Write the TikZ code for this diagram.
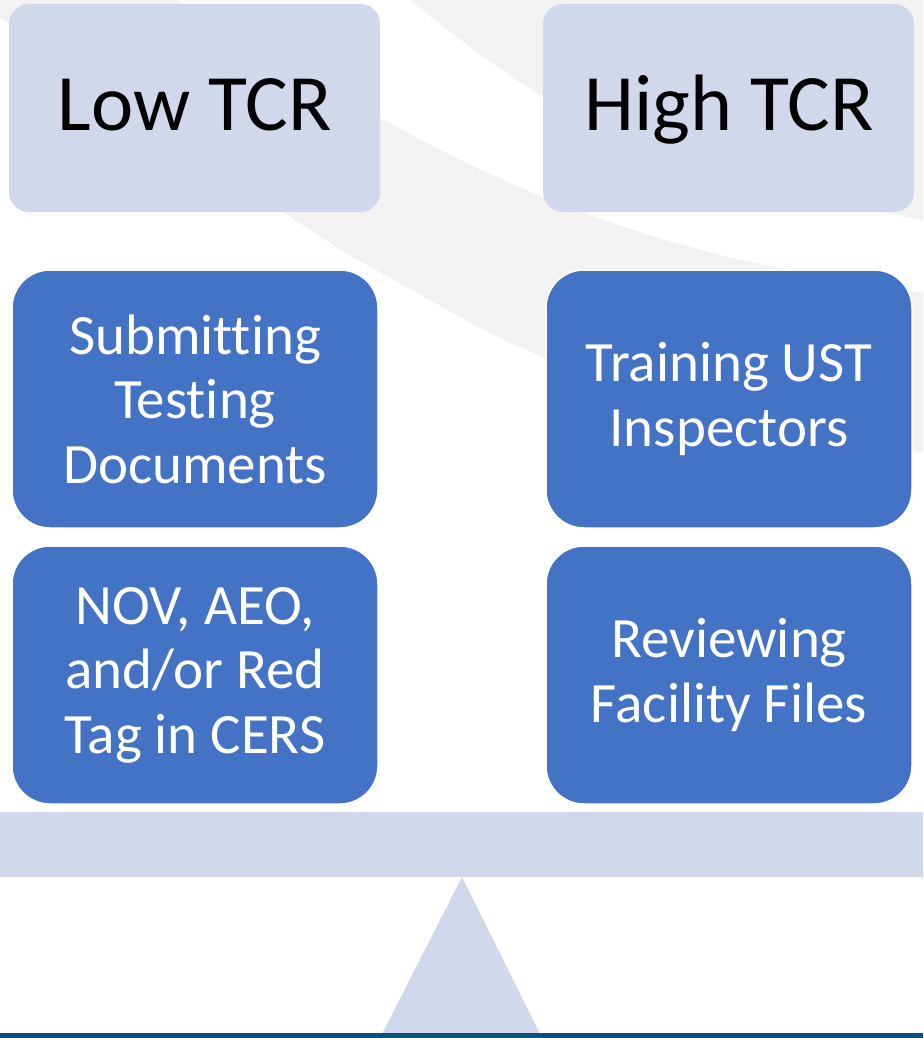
\documentclass[tikz,border=0pt]{standalone}
\usepackage{fontspec}
\setmainfont[Ligatures={NoCommon,NoContextual}]{Carlito}
\definecolor{bggray}{HTML}{F2F2F2}
\definecolor{lav}{HTML}{D2D8EB}
\definecolor{boxblue}{HTML}{4472C4}
\definecolor{darkline}{HTML}{0B4F7A}
\tikzset{
  headbox/.style={fill=lav, rounded corners=20pt, minimum width=371pt, minimum height=208pt, inner sep=0pt, text=black, font=\fontsize{80}{96}\selectfont},
  itembox/.style={fill=boxblue, draw=white, line width=1.5pt, rounded corners=38pt, minimum width=366pt, minimum height=258pt, inner sep=0pt, text=white, align=center, font=\fontsize{57}{64.5}\selectfont},
}
\begin{document}
\begin{tikzpicture}[x=1pt,y=-1pt]
\useasboundingbox (0,0) rectangle (923,1038);
\fill[white] (0,0) rectangle (923,1038);
% background swooshes
\fill[bggray] (410,0) -- plot[smooth, tension=0.6] coordinates {(410,0) (543,97) (700,170) (887,213) (923,220)} -- (923,0) -- cycle;
\fill[bggray] (0,0) -- (177,0) -- plot[smooth, tension=0.6] coordinates {(177,0) (380,118) (543,197) (720,255) (923,293)} -- (923,453) -- plot[smooth, tension=0.6] coordinates {(923,453) (720,410) (543,357) (380,272) (283,212) (0,18)} -- cycle;
% header boxes
\node[headbox] (low) at (194.5,108) {};
\node[headbox] (high) at (728.5,108) {};
\node[anchor=base, font=\fontsize{80}{96}\selectfont] (lowt) at (195,131) {Low TCR};
\node[anchor=base, font=\fontsize{80}{96}\selectfont] (hight) at (729,131) {High TCR};
% item boxes
\node[itembox] (sub) at (195,399) {Submitting\\Testing\\Documents};
\node[itembox] (nov) at (195,675) {NOV, AEO,\\and/or Red\\Tag in CERS};
\node[itembox] (train) at (729,399) {Training UST\\Inspectors};
\node[itembox] (rev) at (729,675) {Reviewing\\Facility Files};
% beam and fulcrum
\fill[lav] (0,812) rectangle (923,877);
\coordinate (apex) at (462,877);
\coordinate (bl) at (382,1034);
\coordinate (br) at (540,1034);
\fill[lav] (apex) -- (bl) -- (br) -- cycle;
\fill[darkline] (0,1033) rectangle (923,1038);
\end{tikzpicture}
\end{document}
